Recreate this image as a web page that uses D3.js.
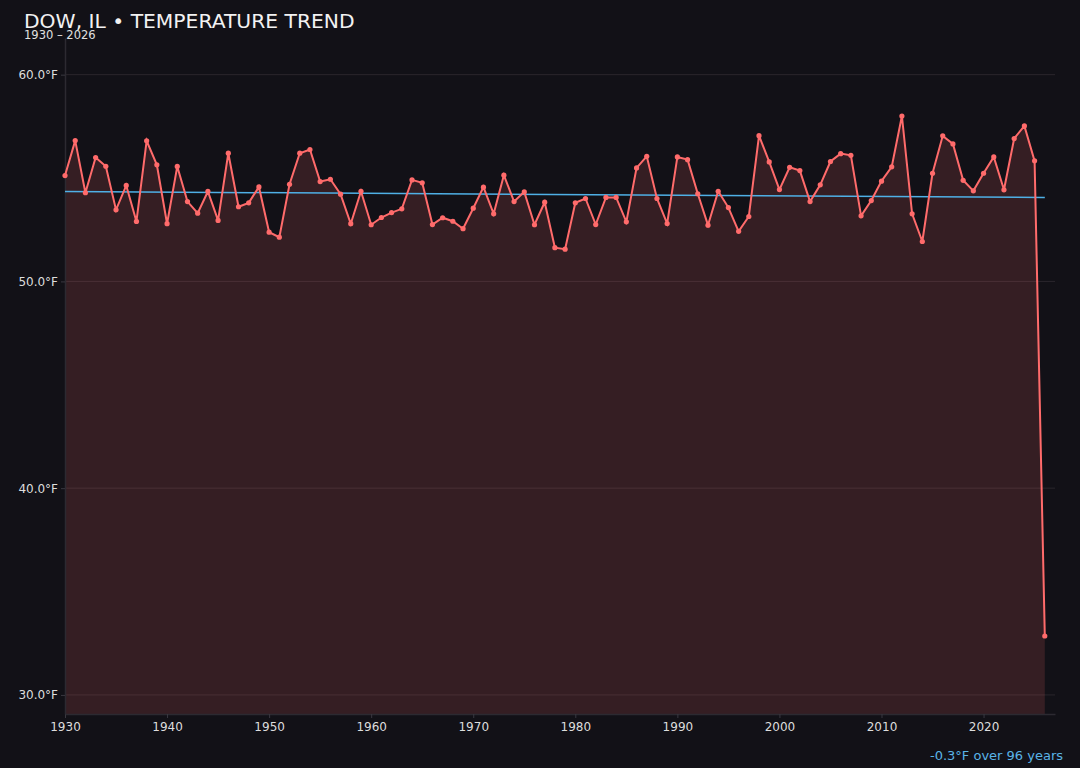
<!DOCTYPE html>
<html>
<head>
<meta charset="utf-8">
<script src="https://cdn.jsdelivr.net/npm/d3@7"></script>
<style>
  html, body { margin: 0; padding: 0; background: #121117; }
  svg { display: block; font-family: "DejaVu Sans", sans-serif; }
</style>
</head>
<body>
<div id="chart"></div>
<script>
const years = d3.range(1930, 2027);
const temps = [
    55.12, 56.81, 54.29, 55.99, 55.57, 53.46, 54.64, 52.90, 56.80, 55.64,
    52.79, 55.56, 53.86, 53.30, 54.35, 52.95, 56.20, 53.61, 53.80, 54.57,
    52.38, 52.14, 54.70, 56.20, 56.38, 54.83, 54.94, 54.22, 52.79, 54.36,
    52.74, 53.09, 53.33, 53.51, 54.91, 54.77, 52.75, 53.08, 52.91, 52.55,
    53.54, 54.56, 53.27, 55.14, 53.86, 54.33, 52.74, 53.83, 51.63, 51.56,
    53.80, 54.01, 52.75, 54.06, 54.06, 52.88, 55.49, 56.05, 54.01, 52.80,
    56.02, 55.89, 54.24, 52.72, 54.36, 53.57, 52.42, 53.14, 57.05, 55.78,
    54.44, 55.52, 55.36, 53.86, 54.67, 55.80, 56.18, 56.10, 53.17, 53.91,
    54.85, 55.54, 58.00, 53.27, 51.93, 55.23, 57.04, 56.65, 54.89, 54.38,
    55.23, 56.02, 54.43, 56.91, 57.52, 55.83, 32.85
];
const trendYears = [1930, 2026];
const trendTemps = [54.35, 54.06];
const yTicks = [30, 40, 50, 60];
const xTicks = [1930, 1940, 1950, 1960, 1970, 1980, 1990, 2000, 2010, 2020];

const width = 1080;
const height = 768;
const margin = { top: 38, right: 25, bottom: 54, left: 65 };

const data = years.map((y, i) => ({ year: y, temp: temps[i] }));

const svg = d3.select("#chart")
    .append("svg")
    .attr("width", width)
    .attr("height", height);

svg.append("rect")
    .attr("width", width)
    .attr("height", height)
    .attr("fill", "#121117");

// Scales
const x = d3.scaleLinear()
    .domain([1930, 2027])
    .range([margin.left, width - margin.right]);

const lo = d3.min(temps), hi = d3.max(temps);
const pad = (hi - lo) * 0.15;
const y = d3.scaleLinear()
    .domain([lo - pad, hi + pad])
    .range([height - margin.bottom, margin.top]);

// Grid lines
svg.append("g")
    .selectAll("line")
    .data(yTicks)
    .join("line")
    .attr("x1", margin.left)
    .attr("x2", width - margin.right)
    .attr("y1", d => y(d))
    .attr("y2", d => y(d))
    .attr("stroke", "#2a262c")
    .attr("stroke-width", 1);

// Area under line
const area = d3.area()
    .x(d => x(d.year))
    .y0(height - margin.bottom)
    .y1(d => y(d.temp));

svg.append("path")
    .datum(data)
    .attr("d", area)
    .attr("fill", "#ff6b6b")
    .attr("fill-opacity", 0.15);

// Axes
const xAxis = svg.append("g")
    .attr("transform", `translate(0, ${height - margin.bottom})`)
    .call(d3.axisBottom(x).tickValues(xTicks).tickFormat(d3.format("d"))
        .tickSizeInner(4).tickSizeOuter(0).tickPadding(4));

const yAxis = svg.append("g")
    .attr("transform", `translate(${margin.left}, 0)`)
    .call(d3.axisLeft(y).tickValues(yTicks).tickFormat(d => d.toFixed(1) + "°F")
        .tickSizeInner(4).tickSizeOuter(0).tickPadding(3));

[xAxis, yAxis].forEach(g => {
    g.select(".domain").attr("stroke", "#2c2a31").attr("stroke-width", 1.5);
    g.selectAll(".tick line").attr("stroke", "#3a3840");
    g.selectAll(".tick text")
        .attr("fill", "#dddddd")
        .style("font-size", "12px")
        .style("font-family", "DejaVu Sans, sans-serif");
});

// Trend line
svg.append("line")
    .attr("x1", x(trendYears[0]))
    .attr("x2", x(trendYears[1]))
    .attr("y1", y(trendTemps[0]))
    .attr("y2", y(trendTemps[1]))
    .attr("stroke", "#4fb0e6")
    .attr("stroke-width", 1.5);

// Temperature line
const line = d3.line()
    .x(d => x(d.year))
    .y(d => y(d.temp));

svg.append("path")
    .datum(data)
    .attr("d", line)
    .attr("fill", "none")
    .attr("stroke", "#ff6b6b")
    .attr("stroke-width", 2);

svg.append("g")
    .selectAll("circle")
    .data(data)
    .join("circle")
    .attr("cx", d => x(d.year))
    .attr("cy", d => y(d.temp))
    .attr("r", 2.6)
    .attr("fill", "#ff6b6b");

// Title and subtitle
svg.append("text")
    .attr("x", 24)
    .attr("y", 28)
    .attr("fill", "#f2f2f2")
    .style("font-size", "20.3px")
    .text("DOW, IL • TEMPERATURE TREND");

svg.append("text")
    .attr("x", 24)
    .attr("y", 39)
    .attr("fill", "#e0e0e0")
    .style("font-size", "11.5px")
    .text("1930 – 2026");

// Trend summary
svg.append("text")
    .attr("x", 1063)
    .attr("y", 760)
    .attr("text-anchor", "end")
    .attr("fill", "#5ab4e6")
    .style("font-size", "13px")
    .text("-0.3°F over 96 years");
</script>
</body>
</html>
